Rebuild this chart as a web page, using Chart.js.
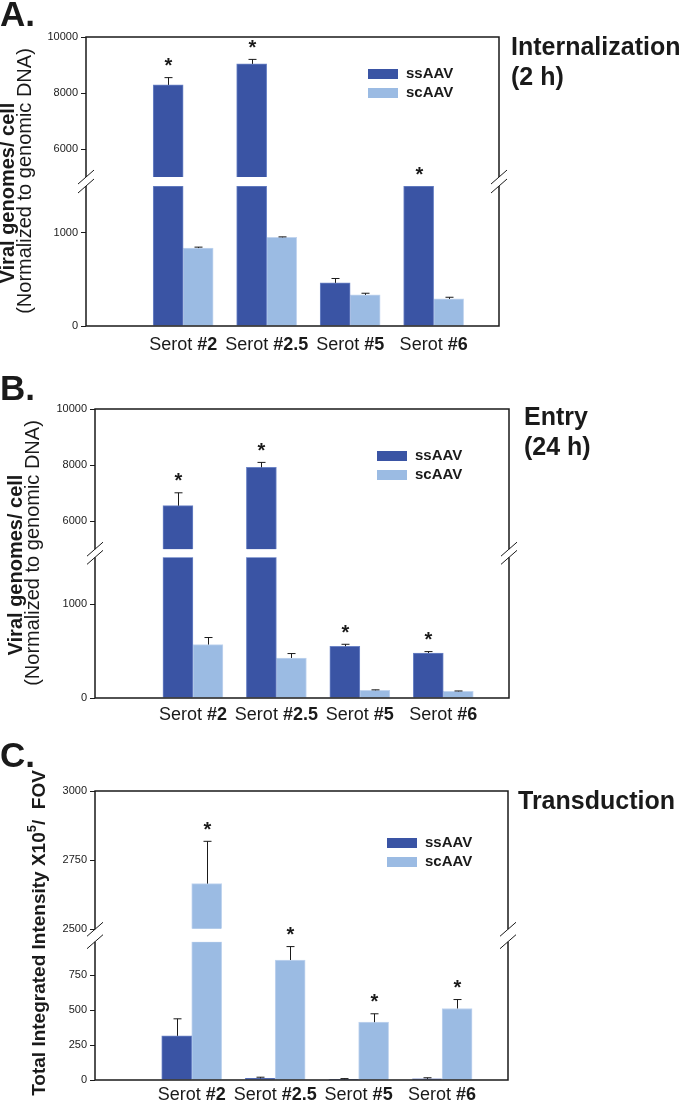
<!DOCTYPE html>
<html>
<head>
<meta charset="utf-8">
<script src="https://cdn.jsdelivr.net/npm/chart.js@4.4.1/dist/chart.umd.min.js"></script>
<style>
  html, body { margin: 0; padding: 0; background: #fff; }
  #wrap { position: relative; width: 685px; height: 1102px; }
  #wrap canvas { position: absolute; left: 0; top: 0; }
</style>
</head>
<body>
<div id="wrap">
  <canvas id="chartA" width="685" height="1102"></canvas>
  <canvas id="chartB" width="685" height="1102"></canvas>
  <canvas id="chartC" width="685" height="1102"></canvas>
</div>
<script>
const serotypes = ['#2', '#2.5', '#5', '#6']
const seriesNames = ['ssAAV', 'scAAV']

// A. internalization (2 h)
const internalSs = [8290, 9040, 462, 1500]
const internalSsErr = [260, 160, 47, 0]
const internalSc = [835, 950, 333, 290]
const internalScErr = [10, 5, 18, 18]
const internalStars = ['ssAAV', 'ssAAV', null, 'ssAAV']
const internalLowTicks = [0, 1000]
const internalHighTicks = [6000, 8000, 10000]

// B. entry (24 h)
const entrySs = [6550, 7920, 552, 480]
const entrySsErr = [460, 175, 21, 15]
const entrySc = [570, 427, 82, 71]
const entryScErr = [75, 47, 5, 4]
const entryStars = ['ssAAV', 'ssAAV', 'ssAAV', 'ssAAV']
const entryLowTicks = [0, 1000]
const entryHighTicks = [6000, 8000, 10000]

// C. transduction
const transSs = [316, 12, 5, 8]
const transSsErr = [122, 8, 5, 8]
const transSc = [2665, 859, 414, 512]
const transScErr = [153, 96, 60, 64]
const transStars = ['scAAV', 'scAAV', 'scAAV', 'scAAV']
const transLowTicks = [0, 250, 500, 750]
const transHighTicks = [2500, 2750, 3000]

const family = '"Liberation Sans", Arial, sans-serif'
const ssColor = '#3a54a4'
const scColor = '#9bbbe3'
const ink = '#1a1a1a'

const drawRotated = (ctx, x, y, pieces) => {
  // pieces drawn bottom-to-top, centred on (x, y)
  ctx.save()
  ctx.translate(x, y)
  ctx.rotate(-Math.PI / 2)
  ctx.textBaseline = 'middle'
  ctx.textAlign = 'left'
  let total = 0
  pieces.forEach(pc => { ctx.font = pc.font; pc.w = ctx.measureText(pc.text).width; total += pc.w })
  let px = -total / 2
  pieces.forEach(pc => {
    ctx.font = pc.font
    ctx.fillText(pc.text, px, -(pc.raise || 0))
    px += pc.w
  })
  ctx.restore()
}

const decor = p => ({
  id: 'decor',
  afterDatasetsDraw (chart) {
    const { ctx, scales } = chart
    const yOf = v => (v > p.breakAt ? scales.yHigh : scales.yLow).getPixelForValue(v)
    ctx.save()
    ;[[p.ss, p.ssErr], [p.sc, p.scErr]].forEach(([vals, errs], s) => {
      const meta = chart.getDatasetMeta(s)
      vals.forEach((v, i) => {
        const bx = Math.round(meta.data[i].x) + 0.5
        const top = yOf(v + errs[i])
        if (errs[i] > 0) {
          ctx.strokeStyle = ink
          ctx.lineWidth = 1
          ctx.beginPath()
          ctx.moveTo(bx, yOf(v))
          ctx.lineTo(bx, top)
          ctx.moveTo(bx - 4, top)
          ctx.lineTo(bx + 4, top)
          ctx.stroke()
        }
        if (p.stars[i] === seriesNames[s]) {
          ctx.fillStyle = ink
          ctx.font = 'bold 20px ' + family
          ctx.textAlign = 'center'
          ctx.textBaseline = 'alphabetic'
          ctx.fillText('*', bx, top - 17 + 11.5)
        }
      })
    })
    ctx.restore()
  },
  afterDraw (chart) {
    const { ctx, scales, chartArea } = chart
    const { left, right, top, bottom } = chartArea
    const gapTop = scales.yHigh.getPixelForValue(p.breakAt)
    const gapBottom = scales.yLow.top
    ctx.save()
    // frame with broken sides
    ctx.strokeStyle = ink
    ctx.lineWidth = 1.5
    ctx.beginPath()
    ctx.moveTo(left, gapTop); ctx.lineTo(left, top); ctx.lineTo(right, top); ctx.lineTo(right, gapTop)
    ctx.moveTo(left, gapBottom); ctx.lineTo(left, bottom); ctx.lineTo(right, bottom); ctx.lineTo(right, gapBottom)
    ctx.stroke()
    ctx.lineWidth = 1
    ctx.beginPath()
    ;[left, right].forEach(x => [gapTop, gapBottom].forEach(y => {
      ctx.moveTo(x - 8, y + 7)
      ctx.lineTo(x + 8, y - 7)
    }))
    ctx.stroke()

    // category labels: "Serot" plain, number bold
    ctx.fillStyle = ink
    ctx.textBaseline = 'alphabetic'
    ctx.textAlign = 'left'
    serotypes.forEach((c, i) => {
      const cx = scales.x.getPixelForValue(i + 1)
      ctx.font = '18px ' + family
      const w1 = ctx.measureText('Serot ').width
      ctx.font = 'bold 18px ' + family
      const w2 = ctx.measureText(c).width
      const x0 = cx - (w1 + w2) / 2
      ctx.font = '18px ' + family
      ctx.fillText('Serot ', x0, bottom + p.labelGap)
      ctx.font = 'bold 18px ' + family
      ctx.fillText(c, x0 + w1, bottom + p.labelGap)
    })

    // legend
    ctx.font = 'bold 15px ' + family
    ctx.textBaseline = 'middle'
    ;[ssColor, scColor].forEach((col, s) => {
      const ly = p.legend.y + s * 19
      ctx.fillStyle = col
      ctx.fillRect(p.legend.x, ly, 30, 10)
      ctx.fillStyle = ink
      ctx.fillText(seriesNames[s], p.legend.x + 38, ly + 5)
    })

    // panel letter and side title
    ctx.textBaseline = 'alphabetic'
    ctx.font = 'bold 35px ' + family
    ctx.fillText(p.letter, 0, p.letterY)
    ctx.font = 'bold 25px ' + family
    p.sideTitle.forEach((t, k) => ctx.fillText(t, p.sideX, p.sideY + k * 30))

    // y-axis title
    p.yTitle.forEach(line => drawRotated(ctx, line.x, line.y, line.pieces))
    ctx.restore()
  }
})

const makePanel = (id, p) => {
  const lowData = vals => vals.map((v, i) => ({ x: i + 1, y: Math.min(v, p.lowMax) }))
  const highData = vals => vals.map((v, i) => ({ x: i + 1, y: v > p.breakAt ? v : null }))
  const barStyle = col => ({
    backgroundColor: col,
    borderColor: col === ssColor ? '#6c84c6' : '#c2d5ef',
    borderWidth: 1,
    barThickness: 30
  })
  const yAxis = (min, max, weight, tickValues) => ({
    type: 'linear',
    position: 'left',
    stack: 'v',
    stackWeight: weight,
    stacked: false,
    min,
    max,
    afterBuildTicks: s => { s.ticks = tickValues.map(value => ({ value })) },
    afterFit: s => { s.width = 50 },
    ticks: { font: { size: 11, family }, color: ink, padding: 3, callback: v => String(v) },
    grid: { display: true, drawOnChartArea: false, drawTicks: true, tickLength: 5, color: ink },
    border: { display: false }
  })
  new Chart(document.getElementById(id), { // eslint-disable-line
    type: 'bar',
    data: {
      datasets: [
        { label: seriesNames[0], data: lowData(p.ss), yAxisID: 'yLow', stack: 'ss', ...barStyle(ssColor) },
        { label: seriesNames[1], data: lowData(p.sc), yAxisID: 'yLow', stack: 'sc', ...barStyle(scColor) },
        { label: seriesNames[0], data: highData(p.ss), yAxisID: 'yHigh', stack: 'ss', base: p.breakAt, ...barStyle(ssColor) },
        { label: seriesNames[1], data: highData(p.sc), yAxisID: 'yHigh', stack: 'sc', base: p.breakAt, ...barStyle(scColor) }
      ]
    },
    options: {
      responsive: false,
      animation: false,
      events: [],
      layout: {
        padding: { left: p.area.left - 50, right: 685 - p.area.right, top: p.area.top, bottom: 1102 - p.area.bottom }
      },
      plugins: { legend: { display: false }, tooltip: { enabled: false } },
      scales: {
        x: { type: 'linear', display: false, min: p.xMin, max: p.xMax },
        // the first scale of a stack goes at the bottom
        yLow: yAxis(0, p.lowMax, p.lowWeight, p.lowTicks),
        yHigh: yAxis(p.highMin, p.highMax, p.highWeight, p.highTicks)
      }
    },
    plugins: [decor(p)]
  })
}

makePanel('chartA', {
  ss: internalSs, ssErr: internalSsErr, sc: internalSc, scErr: internalScErr, stars: internalStars,
  lowTicks: internalLowTicks, highTicks: internalHighTicks,
  lowMax: 1500, breakAt: 5000, highMin: 4680, highMax: 10000, highWeight: 149, lowWeight: 140,
  area: { left: 86, right: 499, top: 37, bottom: 326 }, xMin: 0.111, xMax: 4.508,
  labelGap: 24, legend: { x: 368, y: 69 },
  letter: 'A.', letterY: 26, sideTitle: ['Internalization', '(2 h)'], sideX: 511, sideY: 55,
  yTitle: [
    { x: 8, y: 193, pieces: [{ text: 'Viral genomes/ cell', font: 'bold 20px ' + family }] },
    { x: 25, y: 181, pieces: [{ text: '(Normalized to genomic DNA)', font: '20px ' + family }] }
  ]
})

makePanel('chartB', {
  ss: entrySs, ssErr: entrySsErr, sc: entrySc, scErr: entryScErr, stars: entryStars,
  lowTicks: entryLowTicks, highTicks: entryHighTicks,
  lowMax: 1500, breakAt: 5000, highMin: 4707, highMax: 10000, highWeight: 148.2, lowWeight: 140.5,
  area: { left: 95, right: 509, top: 409, bottom: 698 }, xMin: 0.102, xMax: 4.512,
  labelGap: 22, legend: { x: 377, y: 451 },
  letter: 'B.', letterY: 400, sideTitle: ['Entry', '(24 h)'], sideX: 524, sideY: 425,
  yTitle: [
    { x: 16, y: 565, pieces: [{ text: 'Viral genomes/ cell', font: 'bold 20px ' + family }] },
    { x: 33, y: 553, pieces: [{ text: '(Normalized to genomic DNA)', font: '20px ' + family }] }
  ]
})

makePanel('chartC', {
  ss: transSs, ssErr: transSsErr, sc: transSc, scErr: transScErr, stars: transStars,
  lowTicks: transLowTicks, highTicks: transHighTicks,
  lowMax: 990, breakAt: 2500, highMin: 2455, highMax: 3000, highWeight: 150.7, lowWeight: 138.3,
  area: { left: 95, right: 508, top: 791, bottom: 1080 }, xMin: 0.116, xMax: 4.515,
  labelGap: 20, legend: { x: 387, y: 838 },
  letter: 'C.', letterY: 767, sideTitle: ['Transduction'], sideX: 518, sideY: 809,
  yTitle: [
    {
      x: 40,
      y: 933,
      pieces: [
        { text: 'Total Integrated Intensity X10', font: 'bold 19px ' + family },
        { text: '5', font: 'bold 13px ' + family, raise: 8 },
        { text: '/  FOV', font: 'bold 19px ' + family }
      ]
    }
  ]
})
</script>
</body>
</html>
